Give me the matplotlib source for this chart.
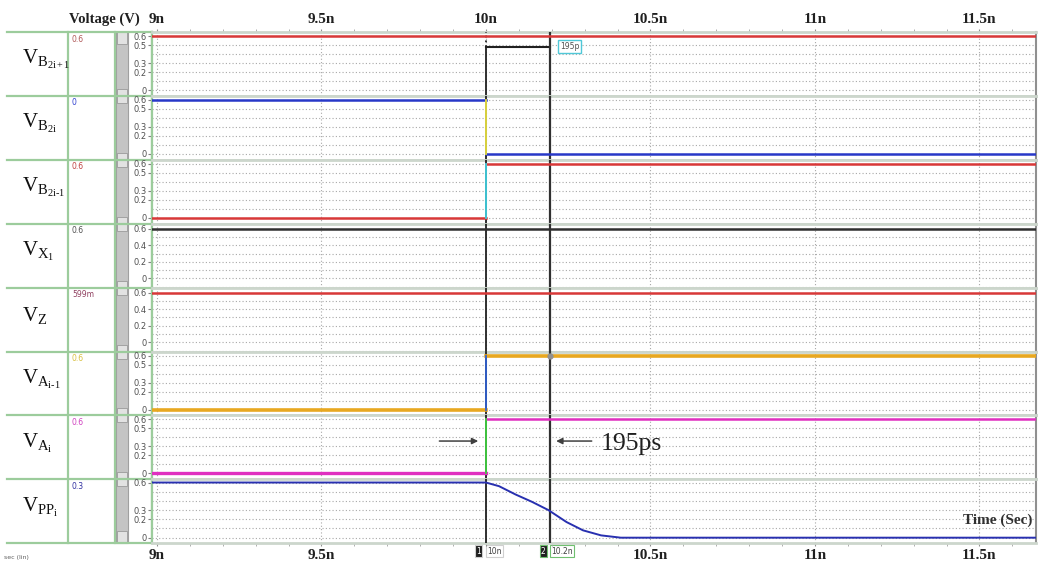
import matplotlib
matplotlib.use("Agg")
import matplotlib.pyplot as plt
from matplotlib.patches import Rectangle
from matplotlib.ticker import MultipleLocator, FixedLocator, FuncFormatter

plt.rcParams['mathtext.fontset'] = 'custom'
plt.rcParams['mathtext.rm'] = 'Liberation Serif'
plt.rcParams['mathtext.it'] = 'Liberation Serif:italic'
SERIF = 'Liberation Serif'

# signal names / levels
row_labels = [r'$\mathrm{V}_{\mathrm{B}_{\mathrm{2i+1}}}$', r'$\mathrm{V}_{\mathrm{B}_{\mathrm{2i}}}$',
              r'$\mathrm{V}_{\mathrm{B}_{\mathrm{2i\text{-}1}}}$', r'$\mathrm{V}_{\mathrm{X}_{\mathrm{1}}}$',
              r'$\mathrm{V}_{\mathrm{Z}}$', r'$\mathrm{V}_{\mathrm{A}_{\mathrm{i\text{-}1}}}$',
              r'$\mathrm{V}_{\mathrm{A}_{\mathrm{i}}}$', r'$\mathrm{V}_{\mathrm{PP}_{\mathrm{i}}}$']
cursor_values = ['0.6', '0', '0.6', '0.6', '599m', '0.6', '0.6', '0.3']
value_colors = ['#b05858', '#3040d0', '#c04040', '#505050', '#904060', '#d8c040', '#d040c0', '#3030a0']
level_before = [0.6, 0.6, 0.0, 0.6, 0.599, 0.0, 0.0, 0.6]
level_after = [0.6, 0.0, 0.6, 0.6, 0.599, 0.6, 0.6, None]
line_colors = ['#d83838', '#2838c8', '#d83838', '#303030', '#d83838', '#e8a820', '#e030c0', '#2830b0']
edge_colors = [None, '#e8e040', '#40d0e0', None, None, '#3060d0', '#40d040', None]
line_widths = [1.8, 1.8, 1.8, 1.8, 1.8, 2.6, 2.4, 1.4]
ytick_sets = [[0, 0.2, 0.3, 0.5, 0.6]] * 3 + [[0, 0.2, 0.4, 0.6]] * 2 + [[0, 0.2, 0.3, 0.5, 0.6]] * 2 + [[0, 0.2, 0.3, 0.6]]
ylims = [(-0.065, 0.645)] * 3 + [(-0.11, 0.66)] * 2 + [(-0.065, 0.645)] * 2 + [(-0.06, 0.635)]

# V_PPi discharge after the edge
vpp_t = [8.98, 10.0, 10.04, 10.09, 10.14, 10.19, 10.245, 10.295, 10.35, 10.41, 11.68]
vpp_v = [0.6, 0.6, 0.56, 0.47, 0.39, 0.30, 0.17, 0.08, 0.025, 0.0, 0.0]

t_start, t_end = 8.985, 11.672
t_edge = 10.0
cursors = [10.0, 10.195]
marker_level = 0.48

W, H = 1039, 565
fig = plt.figure(figsize=(W / 100, H / 100), dpi=100)
bg = fig.add_axes([0, 0, 1, 1])
bg.set_xlim(0, W)
bg.set_ylim(H, 0)
bg.axis('off')

x0, x1 = 152, 1036
y_top, row_h = 32, 63.9
green = '#9ccc9c'

# left panel
bg.add_patch(Rectangle((116, y_top), 12, 8 * row_h, fc='#c4c4c4', ec='#a0a0a0', lw=0.8))
for k in range(9):
    y = y_top + k * row_h
    bg.plot([7, x0], [y, y], color=green, lw=1.6)
    if 0 < k < 8:
        bg.add_patch(Rectangle((117, y - 7), 10, 14, fc='#e2e2e2', ec='#9a9a9a', lw=0.6))
bg.add_patch(Rectangle((117, y_top), 10, 12, fc='#e2e2e2', ec='#9a9a9a', lw=0.6))
bg.add_patch(Rectangle((117, y_top + 8 * row_h - 12), 10, 12, fc='#e2e2e2', ec='#9a9a9a', lw=0.6))
for x in [68, 115, x0]:
    bg.plot([x, x], [y_top, y_top + 8 * row_h], color=green, lw=1.6)

bg.text(104, 19, 'Voltage (V)', family=SERIF, fontsize=10.5, fontweight='bold',
        ha='center', va='center', color='#202020')
bg.text(4, 557, 'sec (lin)', fontsize=4.5, color='#606060', va='center')

for k in range(8):
    yt = y_top + k * row_h
    bg.text(22, yt + row_h / 2 - 4, row_labels[k], fontsize=15, color='#101010', va='center', ha='left')
    bg.text(72, yt + 7, cursor_values[k], fontsize=5.5, color=value_colors[k], va='center')

fmt_n = FuncFormatter(lambda v, p: f'{v:g}n')
# the bottom axis hides 10n behind the cursor tag
fmt_n_bottom = FuncFormatter(lambda v, p: '' if abs(v - 10) < 1e-6 else f'{v:g}n')
axes = []
for k in range(8):
    bottom = 1 - (y_top + (k + 1) * row_h) / H
    ax = fig.add_axes([x0 / W, bottom, (x1 - x0) / W, row_h / H])
    ax.set_xlim(t_start, t_end)
    ax.set_ylim(*ylims[k])
    ax.xaxis.set_major_locator(MultipleLocator(0.5))
    ax.xaxis.set_minor_locator(MultipleLocator(0.1))
    ax.yaxis.set_major_locator(FixedLocator(ytick_sets[k]))
    ax.yaxis.set_major_formatter(FuncFormatter(lambda v, p: f'{v:g}'))
    ax.yaxis.set_minor_locator(MultipleLocator(0.1))
    ax.yaxis.remove_overlapping_locs = False
    ax.yaxis.grid(True, which='minor', ls=(0, (1, 2)), color='#a8a8a8', lw=0.8)
    ax.xaxis.grid(True, which='major', ls=(0, (1, 2)), color='#a8a8a8', lw=0.8)
    ax.tick_params(axis='y', which='major', labelsize=6, labelcolor='#505050', length=3,
                   color='#808080', pad=1)
    ax.tick_params(axis='y', which='minor', length=0)
    ax.tick_params(axis='x', which='both', bottom=False, top=False, labelbottom=False, labeltop=False)
    for s in ['top', 'bottom']:
        ax.spines[s].set_color('#ccd6cc')
        ax.spines[s].set_linewidth(2)
    ax.spines['left'].set_color(green)
    ax.spines['left'].set_linewidth(1.6)
    ax.spines['right'].set_color('#909090')
    ax.spines['right'].set_linewidth(1.5)

    # cursors
    if k == 0:
        ax.plot([cursors[0], cursors[0]], [ylims[k][0], marker_level], color='#202020', lw=1.3, zorder=3)
        ax.plot([cursors[0], cursors[0]], [marker_level, ylims[k][1]], color='#202020', lw=1.3, ls=':', zorder=3)
        ax.plot([cursors[0], cursors[1]], [marker_level, marker_level], color='#202020', lw=1.5, zorder=3)
        ax.text(cursors[1] + 0.03, marker_level, '195p', fontsize=5.5, color='#505050', va='center',
                bbox=dict(fc='white', ec='#50c8d8', lw=1, pad=1.5), zorder=6)
    else:
        ax.axvline(cursors[0], color='#202020', lw=1.3, zorder=3)
    ax.axvline(cursors[1], color='#303030', lw=1.6, zorder=3)

    c, lw = line_colors[k], line_widths[k]
    if k == 7:
        ax.plot(vpp_t, vpp_v, color=c, lw=lw, zorder=4)
    elif level_before[k] == level_after[k]:
        ax.plot([t_start, t_end], [level_before[k], level_after[k]], color=c, lw=lw, zorder=4)
    else:
        ax.plot([t_start, t_edge], [level_before[k], level_before[k]], color=c, lw=lw, zorder=4)
        lw_after = 1.8 if k == 6 else lw
        ax.plot([t_edge, t_end], [level_after[k], level_after[k]], color=c, lw=lw_after, zorder=4)
        ax.plot([t_edge, t_edge], [level_before[k], level_after[k]], color=edge_colors[k], lw=1.3, zorder=5)
    axes.append(ax)

# top / bottom time axes
for ax, where, fmt in [(axes[0], 'top', fmt_n), (axes[-1], 'bottom', fmt_n_bottom)]:
    kw = {where: True, 'label' + where: True}
    ax.tick_params(axis='x', which='major', length=2.5, color='#909090', pad=1.5,
                   labelsize=11, labelcolor='#202020', **kw)
    ax.tick_params(axis='x', which='minor', length=2.5, color='#a0a0a0', **{where: True})
    ax.xaxis.set_major_formatter(fmt)
    for lab in ax.get_xticklabels():
        lab.set_family(SERIF)
        lab.set_fontweight('bold')
axes[0].xaxis.set_label_position('top')

# cursor 2 dot on V_Ai-1
axes[5].plot([cursors[1]], [0.6], 'o', ms=3.5, color='#909090', zorder=6)

# delay annotation
a7 = axes[6]
arrow = dict(arrowstyle='-|>', color='#404040', lw=1.1, mutation_scale=9)
a7.annotate('', xy=(9.985, 0.36), xytext=(9.85, 0.36), arrowprops=arrow, zorder=6)
a7.annotate('', xy=(10.205, 0.36), xytext=(10.33, 0.36), arrowprops=arrow, zorder=6)
a7.text(10.35, 0.33, '195ps', family=SERIF, fontsize=18.5, color='#202020', va='center', zorder=6)

axes[7].text(11.66, 0.19, 'Time (Sec)', family=SERIF, fontsize=11, fontweight='bold',
             color='#303030', ha='right', va='center', zorder=6)

# cursor tags under the axis
tag_y = 551
for t, num, txt, ec in [(cursors[0], '1', '10n', '#d0d0d0'), (cursors[1], '2', '10.2n', '#70c070')]:
    xp = x0 + (t - t_start) / (t_end - t_start) * (x1 - x0)
    bg.text(xp - 7, tag_y, num, fontsize=5.5, color='white', ha='center', va='center',
            bbox=dict(fc='#202020', ec=ec, lw=0.8, pad=0.8))
    bg.text(xp + 1, tag_y, txt, fontsize=5.5, color='#404040', ha='left', va='center',
            bbox=dict(fc='white', ec=ec, lw=0.8, pad=0.8))

fig.savefig('out.png', dpi=100)
